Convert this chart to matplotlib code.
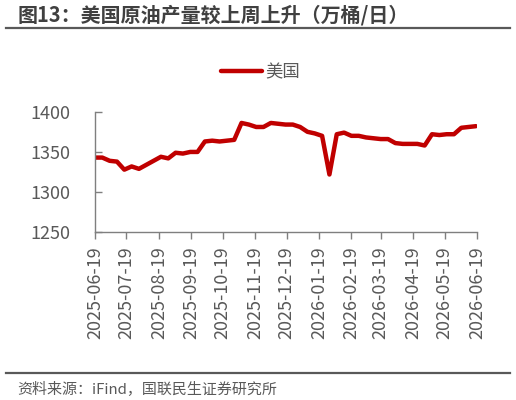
"""图13：美国原油产量较上周上升（万桶/日）"""

import matplotlib

matplotlib.use("Agg")

import matplotlib.dates as mdates
import matplotlib.pyplot as plt
import pandas as pd
from matplotlib.lines import Line2D

plt.rcParams["font.family"] = ["Noto Sans CJK SC", "DejaVu Sans"]

TEXT_GREY = "#595959"
LINE_RED = "#C00000"

# 周度数据（万桶/日），自 2025-06-19 起
start_date = "2025-06-19"
production = [
    1343, 1343, 1339, 1338, 1328, 1332, 1329, 1334, 1339, 1344,
    1342, 1349, 1348, 1350, 1350, 1363, 1364, 1363, 1364, 1365,
    1386, 1384, 1381, 1381, 1386, 1385, 1384, 1384, 1381, 1375,
    1373, 1370, 1322, 1372, 1374, 1370, 1370, 1368, 1367, 1366,
    1366, 1361, 1360, 1360, 1360, 1358, 1372, 1371, 1372, 1372,
    1380, 1381, 1382,
]
tick_dates = [
    "2025-06-19", "2025-07-19", "2025-08-19", "2025-09-19", "2025-10-19",
    "2025-11-19", "2025-12-19", "2026-01-19", "2026-02-19", "2026-03-19",
    "2026-04-19", "2026-05-19", "2026-06-19",
]
y_ticks = [1250, 1300, 1350, 1400]

dates = pd.date_range(start_date, periods=len(production), freq="7D")
ticks = pd.to_datetime(tick_dates)

fig = plt.figure(figsize=(5.16, 4.0), dpi=100)
ax = fig.add_axes([0.1841, 0.4188, 0.9244 - 0.1841, 0.7208 - 0.4188])

ax.plot(dates, production, color=LINE_RED, linewidth=3.2, label="美国",
        solid_capstyle="round")

ax.set_xlim(ticks[0], ticks[-1])
ax.set_ylim(1250, 1400)
ax.set_yticks(y_ticks)
ax.set_xticks(ticks)
ax.xaxis.set_major_formatter(mdates.DateFormatter("%Y-%m-%d"))

for side in ("top", "right"):
    ax.spines[side].set_visible(False)
for side in ("left", "bottom"):
    ax.spines[side].set_color("#7f7f7f")
    ax.spines[side].set_linewidth(1.0)

ax.tick_params(axis="y", direction="in", length=5, width=1.0, color="#7f7f7f",
               labelsize=13, labelcolor=TEXT_GREY, pad=18)
ax.tick_params(axis="x", direction="out", length=5, width=1.0, color="#7f7f7f",
               labelsize=13, labelcolor=TEXT_GREY, pad=5, labelrotation=90)

ax.legend(loc="center", bbox_to_anchor=(0.505, 0.82), bbox_transform=fig.transFigure,
          frameon=False, fontsize=12.5, handlelength=2.4, handletextpad=0.2,
          labelcolor=TEXT_GREY)

# 标题与分隔线
fig.text(0.034, 0.962, "图13：美国原油产量较上周上升（万桶/日）", ha="left", va="center",
         fontsize=14.4, weight="bold", color="#404040")
fig.add_artist(Line2D([0.012, 0.988], [0.931, 0.931], transform=fig.transFigure,
                      color="#595959", linewidth=1.6))
fig.add_artist(Line2D([0.012, 0.988], [0.068, 0.068], transform=fig.transFigure,
                      color="#595959", linewidth=1.6))
fig.text(0.034, 0.027, "资料来源：iFind，国联民生证券研究所", ha="left", va="center",
         fontsize=10.8, color=TEXT_GREY)

fig.savefig("out.png", dpi=100)
